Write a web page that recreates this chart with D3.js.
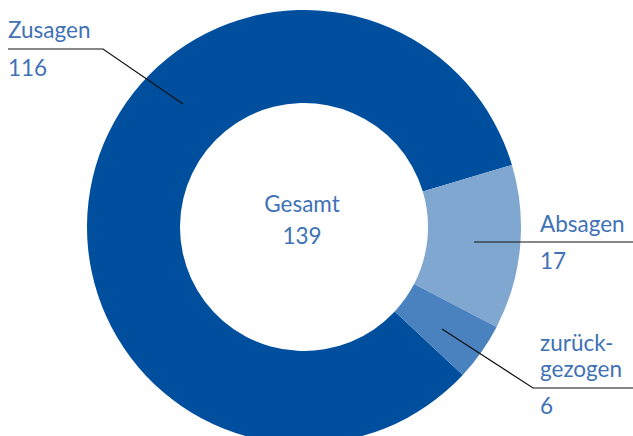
<!DOCTYPE html>
<html>
<head>
<meta charset="utf-8">
<script src="https://cdn.jsdelivr.net/npm/d3@7"></script>
<style>
  body { margin: 0; background: #fff; }
  svg { display: block; }
  text { font-family: "Source Sans Pro", Lato, "Open Sans", sans-serif; font-weight: 400; fill: #3f72b6; font-size: 22.5px; }
</style>
</head>
<body>
<div id="chart"></div>
<script>
var categories = ["Zusagen", "Absagen", "zurückgezogen"];
var values = [116, 17, 6];
var colors = ["#004f9e", "#80a7cf", "#4a82bf"];
var totalLabel = "Gesamt";

var width = 633, height = 436;
var cx = 304, cy = 227;
var outer = 217, inner = 124;

var svg = d3.select("#chart").append("svg")
  .attr("width", width)
  .attr("height", height);

var total = d3.sum(values);
// Absagen starts at ~73.4 deg (clockwise from top)
var start = (73.4 - 360 * values[0] / total) * Math.PI / 180;

var pie = d3.pie().sort(null).startAngle(start).endAngle(start + 2 * Math.PI);
var arc = d3.arc().innerRadius(inner).outerRadius(outer);

var g = svg.append("g").attr("transform", "translate(" + cx + "," + cy + ")");

var arcs = pie(values);
g.selectAll("path")
  .data(arcs)
  .enter().append("path")
  .attr("d", arc)
  .attr("fill", function(d, i) { return colors[i]; });

// center label
g.append("text").attr("text-anchor", "middle").attr("x", -2).attr("y", -15).text(totalLabel);
g.append("text").attr("text-anchor", "middle").attr("x", -2).attr("y", 17).text(total);

// leader lines
var lines = [
  [[8, 49], [103, 49], [183, 104]],
  [[474, 242], [633, 242]],
  [[442, 329], [533, 388], [633, 388]]
];
svg.selectAll("path.leader")
  .data(lines)
  .enter().append("path")
  .attr("class", "leader")
  .attr("d", d3.line())
  .attr("fill", "none")
  .attr("stroke", "#111")
  .attr("stroke-width", 1.2);

// labels
function label(lines, x, y0, step) {
  var t = svg.append("text").attr("x", x).attr("y", y0);
  lines.forEach(function(s, i) {
    t.append("tspan").attr("x", x).attr("y", y0 + i * step).text(s);
  });
}
label(["Zusagen"], 8, 38, 0);
label([String(values[0])], 8, 76, 0);
label(["Absagen"], 540, 232, 0);
label([String(values[1])], 540, 269, 0);
label(["zurück-", "gezogen"], 540, 351, 26);
label([String(values[2])], 540, 414, 0);
</script>
</body>
</html>
